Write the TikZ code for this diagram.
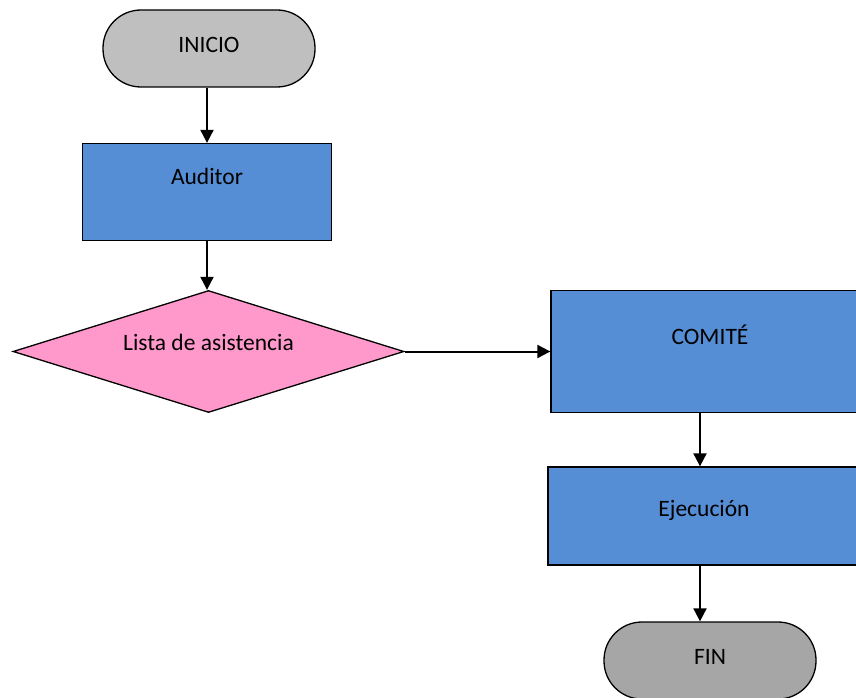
\documentclass[tikz,border=0pt]{standalone}
\usepackage{fontspec}
\setmainfont{Carlito}
\usetikzlibrary{arrows.meta,positioning,shapes.geometric}
\definecolor{termgris}{HTML}{BFBFBF}
\definecolor{fingris}{HTML}{A6A6A6}
\definecolor{procazul}{HTML}{558ED5}
\definecolor{decrosa}{HTML}{FF99CC}
\tikzset{
  blk/.style={draw,rectangle,line width=1.3pt,align=center,inner sep=0pt,font=\fontsize{23.5}{28}\selectfont},
  termblk/.style={blk,rounded corners=38pt,minimum width=212pt,minimum height=77pt},
  procblk/.style={blk,fill=procazul},
  decblk/.style={blk,diamond,fill=decrosa,shape aspect=3.2},
  arr/.style={-{Triangle[length=13pt,width=13pt]},line width=2pt}
}
\begin{document}
\begin{tikzpicture}[x=1pt,y=-1pt]
  \useasboundingbox (0,0) rectangle (856,698);
  % Terminals
  \node[termblk,fill=termgris,text depth=8pt] (inicio) at (209,48.5) {INICIO};
  \node[termblk,fill=fingris,text depth=8pt] (fin) at (710,660.5) {FIN};

  % Process boxes
  \node[procblk,minimum width=249pt,minimum height=97pt,text depth=32pt] (aud) at (207,192) {Auditor};
  \node[procblk,minimum width=318pt,minimum height=122pt,text depth=33pt] (com) at (710,351.5) {COMITÉ};
  \node[procblk,minimum width=312pt,minimum height=98pt,text depth=16pt] (eje) at (704,516) {Ejecución};

  % Decision
  \node[decblk,minimum width=391pt,minimum height=122pt,text depth=19pt] (lista) at (208.5,351.5) {Lista de asistencia};

  % Connections
  \draw[arr] (inicio.south -| aud.north) -- (aud.north);
  \draw[arr] (aud.south) -- (aud.south |- lista.north);
  \draw[arr] (lista.east) -- (com.west);
  \draw[arr] ([xshift=-10pt]com.south) -- ([xshift=-4pt]eje.north);
  \draw[arr] ([xshift=-4pt]eje.south) -- ([xshift=-10pt]fin.north);
\end{tikzpicture}
\end{document}
